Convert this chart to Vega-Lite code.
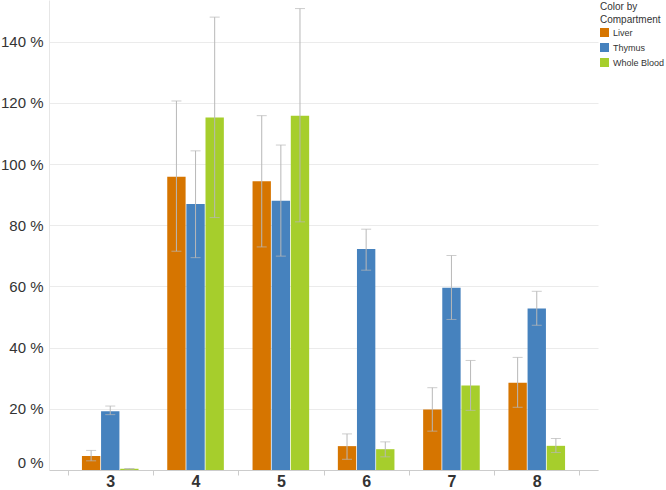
{
  "$schema": "https://vega.github.io/schema/vega-lite/v6.json",
  "width": 549,
  "height": 470,
  "autosize": {"type": "none"},
  "padding": {"left": 49, "top": 0, "right": 68, "bottom": 20},
  "background": "white",
  "config": {
    "view": {"stroke": null},
    "font": "Liberation Sans"
  },
  "data": {
    "values": [
      {"group": "3", "compartment": "Liver", "value": 4.6, "lo": 3.0, "hi": 6.4},
      {"group": "3", "compartment": "Thymus", "value": 19.2, "lo": 18.1, "hi": 20.9},
      {"group": "3", "compartment": "Whole Blood", "value": 0.4, "lo": 0.3, "hi": 0.5},
      {"group": "4", "compartment": "Liver", "value": 95.8, "lo": 71.5, "hi": 120.6},
      {"group": "4", "compartment": "Thymus", "value": 86.9, "lo": 69.4, "hi": 104.3},
      {"group": "4", "compartment": "Whole Blood", "value": 115.2, "lo": 82.5, "hi": 148.0},
      {"group": "5", "compartment": "Liver", "value": 94.4, "lo": 72.9, "hi": 115.8},
      {"group": "5", "compartment": "Thymus", "value": 88.0, "lo": 69.9, "hi": 106.2},
      {"group": "5", "compartment": "Whole Blood", "value": 115.8, "lo": 81.1, "hi": 150.8},
      {"group": "6", "compartment": "Liver", "value": 7.8, "lo": 3.5, "hi": 11.8},
      {"group": "6", "compartment": "Thymus", "value": 72.2, "lo": 65.3, "hi": 78.7},
      {"group": "6", "compartment": "Whole Blood", "value": 6.8, "lo": 4.3, "hi": 9.2},
      {"group": "7", "compartment": "Liver", "value": 19.8, "lo": 12.7, "hi": 26.9},
      {"group": "7", "compartment": "Thymus", "value": 59.6, "lo": 49.2, "hi": 70.1},
      {"group": "7", "compartment": "Whole Blood", "value": 27.6, "lo": 19.5, "hi": 35.8},
      {"group": "8", "compartment": "Liver", "value": 28.5, "lo": 20.5, "hi": 36.8},
      {"group": "8", "compartment": "Thymus", "value": 52.8, "lo": 47.3, "hi": 58.4},
      {"group": "8", "compartment": "Whole Blood", "value": 7.9, "lo": 5.7, "hi": 10.3}
    ]
  },
  "encoding": {
    "x": {
      "field": "group",
      "type": "nominal",
      "scale": {"paddingInner": 0, "paddingOuter": 0.218},
      "axis": {
        "title": null,
        "labelAngle": 0,
        "labelFont": "Liberation Sans",
        "labelFontSize": 16,
        "labelFontWeight": "bold",
        "labelColor": "#333333",
        "labelBaseline": "alphabetic",
        "labelPadding": 11,
        "domainColor": "#cccccc",
        "tickColor": "#cccccc",
        "tickSize": 5,
        "tickBand": "extent",
        "grid": false
      }
    },
    "xOffset": {
      "field": "compartment",
      "type": "nominal",
      "sort": ["Liver", "Thymus", "Whole Blood"],
      "scale": {"paddingOuter": 0.75, "paddingInner": 0.04}
    }
  },
  "layer": [
    {
      "mark": {"type": "bar"},
      "encoding": {
        "y": {
          "field": "value",
          "type": "quantitative",
          "scale": {"domain": [0, 153.6], "nice": false, "zero": true},
          "axis": {
            "title": null,
            "values": [0, 20, 40, 60, 80, 100, 120, 140],
            "labelExpr": "datum.value + ' %'",
            "labelFont": "Liberation Sans",
            "labelFontSize": 15,
            "labelColor": "#333333",
            "labelPadding": 6,
            "labelFlush": true,
            "tickSize": 0,
            "domainColor": "#e6e6e6",
            "gridColor": "#ebebeb",
            "gridWidth": 1
          }
        },
        "color": {
          "field": "compartment",
          "type": "nominal",
          "sort": ["Liver", "Thymus", "Whole Blood"],
          "scale": {"domain": ["Liver", "Thymus", "Whole Blood"], "range": ["#D67500", "#4682BE", "#A6CE2C"]},
          "legend": {
            "title": ["Color by", "Compartment"],
            "titleFont": "Liberation Sans",
            "titleFontSize": 10,
            "titleFontWeight": "normal",
            "titleColor": "#333333",
            "titleLineHeight": 13,
            "titlePadding": 3,
            "labelFont": "Liberation Sans",
            "labelFontSize": 9,
            "labelColor": "#333333",
            "labelOffset": 4,
            "symbolType": "square",
            "symbolSize": 81,
            "symbolStrokeWidth": 0,
            "rowPadding": 5,
            "offset": 0,
            "padding": 2
          }
        }
      }
    },
    {
      "mark": {"type": "rule", "color": "#b8b8b8", "strokeWidth": 1},
      "encoding": {
        "y": {"field": "lo", "type": "quantitative"},
        "y2": {"field": "hi"}
      }
    },
    {
      "mark": {"type": "tick", "color": "#b8b8b8", "thickness": 1, "size": 10, "orient": "horizontal"},
      "encoding": {
        "y": {"field": "hi", "type": "quantitative"}
      }
    },
    {
      "mark": {"type": "tick", "color": "#b8b8b8", "thickness": 1, "size": 10, "orient": "horizontal"},
      "encoding": {
        "y": {"field": "lo", "type": "quantitative"}
      }
    }
  ]
}
